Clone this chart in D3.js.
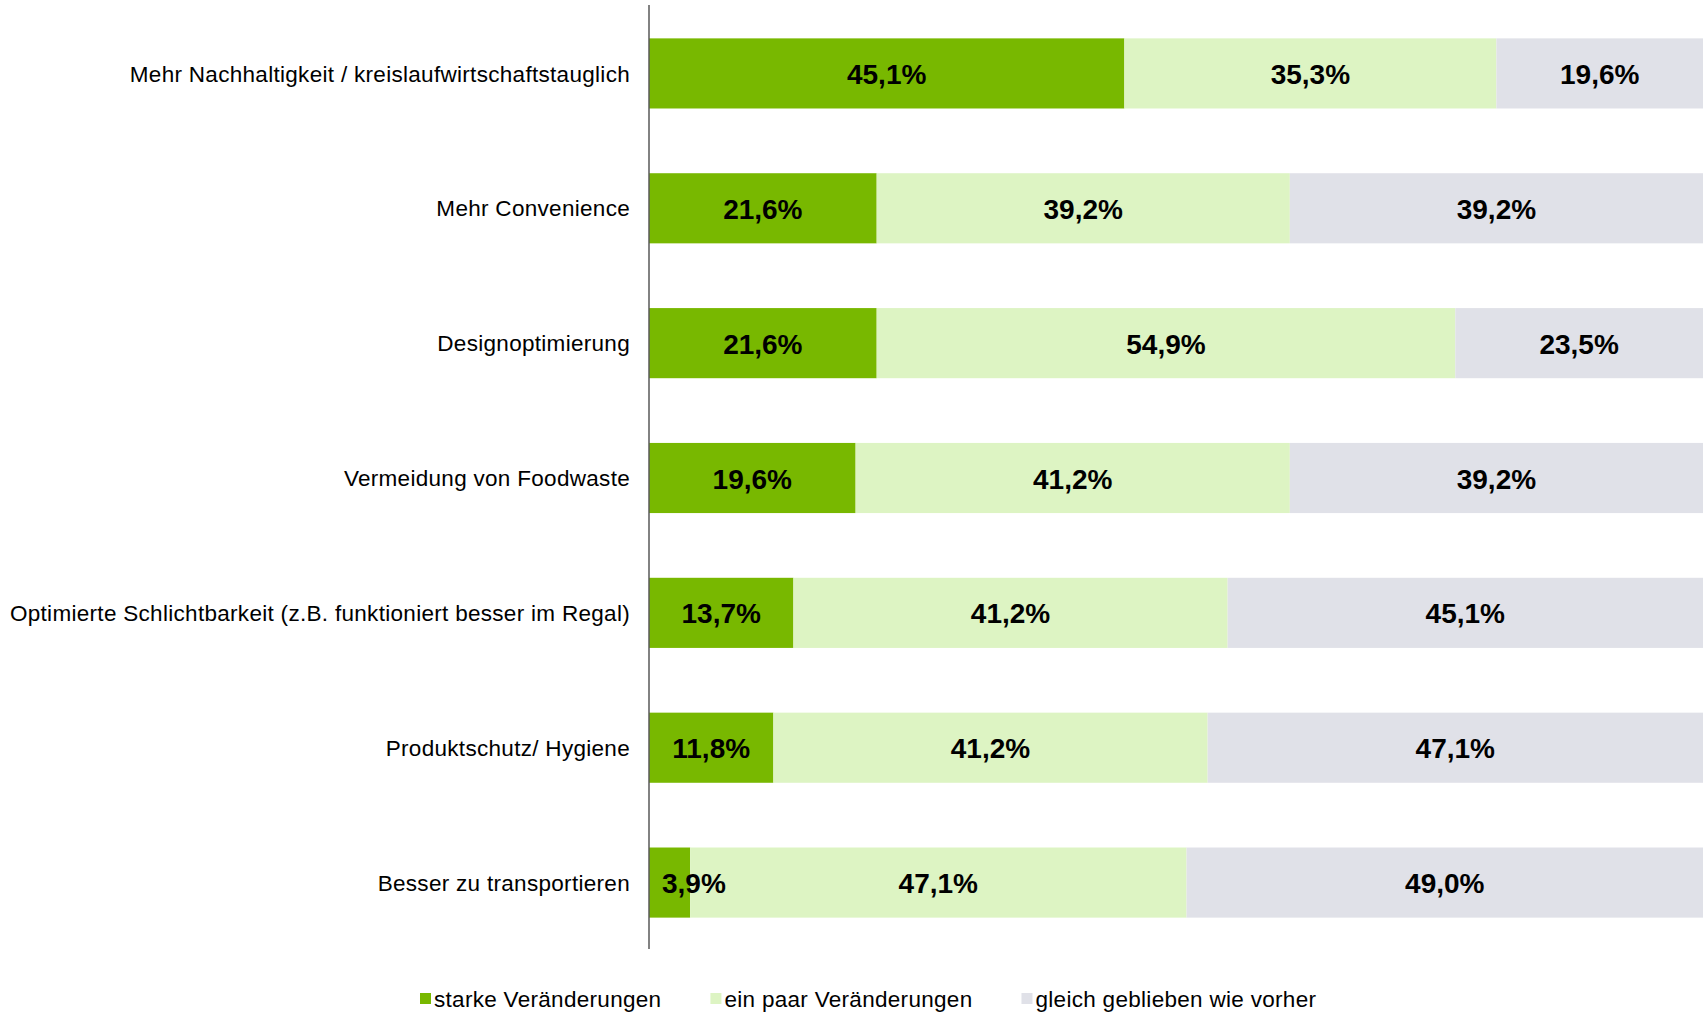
<!DOCTYPE html>
<html>
<head>
<meta charset="utf-8">
<script src="https://cdn.jsdelivr.net/npm/d3@7"></script>
<style>
  html, body { margin: 0; padding: 0; background: #fff; }
  svg { display: block; font-family: "Liberation Sans", Arial, sans-serif; }
  .cat-label { font-size: 22.5px; letter-spacing: 0.3px; fill: #000; }
  .val-label { font-size: 28px; font-weight: bold; fill: #000; }
  .legend-label { font-size: 22.5px; letter-spacing: 0.3px; fill: #000; }
</style>
</head>
<body>
<div id="chart"></div>
<script>
// Kategorien (von oben nach unten)
const categories = [
  'Mehr Nachhaltigkeit / kreislaufwirtschaftstauglich',
  'Mehr Convenience',
  'Designoptimierung',
  'Vermeidung von Foodwaste',
  'Optimierte Schlichtbarkeit (z.B. funktioniert besser im Regal)',
  'Produktschutz/ Hygiene',
  'Besser zu transportieren',
];

const seriesNames = ['starke Veränderungen', 'ein paar Veränderungen', 'gleich geblieben wie vorher'];
const starke = [45.1, 21.6, 21.6, 19.6, 13.7, 11.8, 3.9];
const einPaar = [35.3, 39.2, 54.9, 41.2, 41.2, 41.2, 47.1];
const gleich = [19.6, 39.2, 23.5, 39.2, 45.1, 47.1, 49.0];

const colors = ['#78b800', '#ddf4c3', '#e0e1e8'];

const width = 1706;
const height = 1012;
const axisX = 649;
const rightX = 1703;

const svg = d3.select('#chart')
  .append('svg')
  .attr('width', width)
  .attr('height', height);

const rows = categories.map((c, i) => ({
  cat: c,
  values: [starke[i], einPaar[i], gleich[i]],
}));

const xScale = d3.scaleLinear().domain([0, 100]).range([axisX, rightX]).clamp(true);
const yScale = d3.scaleBand()
  .domain(categories)
  .range([6, 950])
  .paddingInner(0.48)
  .paddingOuter(0.24);

const fmt = (v) => `${v.toFixed(1).replace('.', ',')}%`;

// Balken
rows.forEach((row) => {
  let start = 0;
  const y = yScale(row.cat);
  const h = yScale.bandwidth();
  row.values.forEach((v, k) => {
    const x0 = xScale(start);
    const x1 = xScale(start + v);
    svg.append('rect')
      .attr('x', x0)
      .attr('y', y)
      .attr('width', Math.max(0, x1 - x0))
      .attr('height', h)
      .attr('fill', colors[k]);
    start += v;
  });
});

// Werte-Beschriftungen
rows.forEach((row) => {
  let start = 0;
  const y = yScale(row.cat) + yScale.bandwidth() / 2;
  row.values.forEach((v) => {
    const x0 = xScale(start);
    const x1 = xScale(start + v);
    const t = svg.append('text')
      .attr('class', 'val-label')
      .attr('text-anchor', 'middle')
      .attr('dy', '0.38em')
      .attr('y', y)
      .text(fmt(v));
    const tw = t.node().getComputedTextLength();
    // schmale Segmente: Text nicht über die Achse hinausschieben
    const cx = Math.max((x0 + x1) / 2, x0 + tw / 2 + 13);
    t.attr('x', cx);
    start += v;
  });
});

// Achse
svg.append('line')
  .attr('x1', axisX)
  .attr('x2', axisX)
  .attr('y1', 5)
  .attr('y2', 949)
  .attr('stroke', '#595959')
  .attr('stroke-width', 1.5);

// Kategorie-Beschriftungen
svg.selectAll('.cat-label')
  .data(categories)
  .enter()
  .append('text')
  .attr('class', 'cat-label')
  .attr('text-anchor', 'end')
  .attr('x', 630)
  .attr('y', (d) => yScale(d) + yScale.bandwidth() / 2)
  .attr('dy', '0.36em')
  .text((d) => d);

// Legende
let lx = 420;
const ly = 999;
seriesNames.forEach((name, k) => {
  svg.append('rect')
    .attr('x', lx)
    .attr('y', ly - 6)
    .attr('width', 11)
    .attr('height', 11)
    .attr('fill', colors[k]);
  const t = svg.append('text')
    .attr('class', 'legend-label')
    .attr('x', lx + 14)
    .attr('y', ly)
    .attr('dy', '0.36em')
    .text(name);
  lx += 14 + t.node().getComputedTextLength() + 49;
});
</script>
</body>
</html>
